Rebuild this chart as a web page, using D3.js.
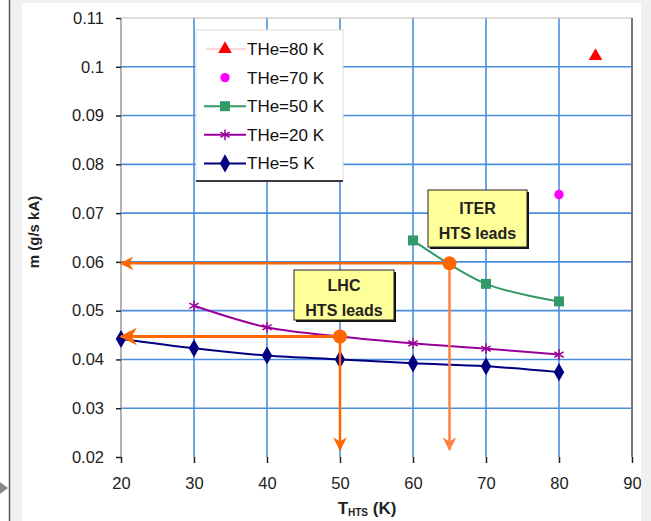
<!DOCTYPE html>
<html>
<head>
<meta charset="utf-8">
<script src="https://cdn.jsdelivr.net/npm/d3@7"></script>
<style>
  body { margin: 0; background: #fff; }
  svg { display: block; font-family: Arial, "Liberation Sans", sans-serif; }
</style>
</head>
<body>
<script>
// axis ticks
const xTicks = [20, 30, 40, 50, 60, 70, 80, 90];
const yTicks = [0.02, 0.03, 0.04, 0.05, 0.06, 0.07, 0.08, 0.09, 0.1, 0.11];

// series (T_HTS in K, m in g/s kA)
const he5 = [[20, 0.0442], [30, 0.0423], [40, 0.0408], [50, 0.0400], [60, 0.0392], [70, 0.0386], [80, 0.0374]];
const he20 = [[30, 0.0510], [40, 0.0466], [50, 0.0447], [60, 0.0433], [70, 0.0422], [80, 0.0410]];
const he50 = [[60, 0.0644], [70, 0.0555], [80, 0.0519]];
const he70 = [[80, 0.0738]];
const he80 = [[85, 0.1022]];

// operating points of the HTS leads
const lhcPoint = [50, 0.0447];
const iterPoint = [65, 0.0597];

const W = 651, H = 521;
const margin = { top: 18, right: 19, bottom: 64, left: 121 };
const width = W - margin.left - margin.right,
  height = H - margin.top - margin.bottom;

const svg = d3.select("body").append("svg")
  .attr("width", W).attr("height", H);

// page frame like the source screenshot
svg.append("rect").attr("x", 10).attr("y", 0).attr("width", W - 10).attr("height", H).attr("fill", "#f0f0f0");
svg.append("rect").attr("x", 22).attr("y", 3).attr("width", 619).attr("height", H - 3).attr("fill", "#fff");
svg.append("line").attr("x1", 9.5).attr("x2", 9.5).attr("y1", 0).attr("y2", H).attr("stroke", "#555").attr("stroke-width", 1.5);
svg.append("path").attr("d", "M0,482 L8,488 L0,494 Z").attr("fill", "#888");

const x = d3.scaleLinear().domain([20, 90]).range([0, width]);
const y = d3.scaleLinear().domain([0.02, 0.11]).range([height, 0]);

const g = svg.append("g")
  .attr("transform", "translate(" + margin.left + "," + margin.top + ")");

// grid
const gridColor = "#4a8ede";
g.selectAll(".hgrid").data(yTicks.filter(d => d > 0.02 && d < 0.11)).enter()
  .append("line")
  .attr("x1", 0).attr("x2", width)
  .attr("y1", d => y(d)).attr("y2", d => y(d))
  .attr("stroke", gridColor).attr("stroke-width", 1.6);
g.selectAll(".vgrid").data(xTicks.filter(d => d > 20 && d < 90)).enter()
  .append("line")
  .attr("y1", 0).attr("y2", height)
  .attr("x1", d => x(d)).attr("x2", d => x(d))
  .attr("stroke", gridColor).attr("stroke-width", 1.6);

// plot frame
g.append("line").attr("x1", 0).attr("x2", width).attr("y1", 0).attr("y2", 0).attr("stroke", "#bbb");
g.append("line").attr("x1", 0).attr("x2", 0).attr("y1", 0).attr("y2", height).attr("stroke", "#999").attr("stroke-width", 1.5);
g.append("line").attr("x1", width).attr("x2", width).attr("y1", 0).attr("y2", height).attr("stroke", "#777").attr("stroke-width", 2);

// axes
const yAxis = g.append("g")
  .call(d3.axisLeft(y).tickValues(yTicks).tickSize(5).tickPadding(12)
    .tickFormat(d => d3.format("~g")(+d.toFixed(2))));
yAxis.select(".domain").remove();
yAxis.selectAll("line").attr("stroke", "#222").attr("stroke-width", 1.5);
yAxis.selectAll("text").attr("font-size", 16.5).attr("fill", "#222");

const xAxis = g.append("g")
  .attr("transform", "translate(0," + height + ")")
  .call(d3.axisBottom(x).tickValues(xTicks).tickSize(6).tickPadding(14));
xAxis.select(".domain").remove();
xAxis.selectAll("line").attr("stroke", "#222").attr("stroke-width", 1.5);
xAxis.selectAll("text").attr("font-size", 16.5).attr("fill", "#222");

// axis titles
svg.append("text")
  .attr("transform", "translate(39,232) rotate(-90)")
  .attr("text-anchor", "middle")
  .attr("font-size", 15).attr("font-weight", "bold").attr("fill", "#222")
  .text("m (g/s kA)");
const xt = svg.append("text")
  .attr("x", 367).attr("y", 514)
  .attr("text-anchor", "middle")
  .attr("font-size", 17).attr("font-weight", "bold").attr("fill", "#222");
xt.append("tspan").text("T");
xt.append("tspan").attr("font-size", 10).attr("dy", 2).text("HTS");
xt.append("tspan").attr("dy", -2).text(" (K)");

// series
const line = d3.line()
  .x(d => x(d[0])).y(d => y(d[1]))
  .curve(d3.curveCatmullRom.alpha(0.5));

const series = [
  { name: "THe=80 K", data: he80, color: "#ff0000", sym: d3.symbolTriangle, size: 80, line: false },
  { name: "THe=70 K", data: he70, color: "#ff00ff", sym: d3.symbolCircle, size: 70, line: false },
  { name: "THe=50 K", data: he50, color: "#339966", sym: d3.symbolSquare, size: 100, line: true },
  { name: "THe=20 K", data: he20, color: "#990099", sym: d3.symbolAsterisk, size: 80, line: true },
  { name: "THe=5 K", data: he5, color: "#000080", sym: d3.symbolDiamond, size: 95, line: true }
];

series.forEach(s => {
  if (s.line) {
    g.append("path").datum(s.data)
      .attr("d", line)
      .attr("fill", "none").attr("stroke", s.color).attr("stroke-width", 2);
  }
});

function drawSymbol(sel, s) {
  const sym = d3.symbol().type(s.sym).size(s.size);
  if (s.sym === d3.symbolAsterisk) {
    sel.attr("d", sym).attr("fill", "none").attr("stroke", s.color).attr("stroke-width", 1.5);
  } else {
    sel.attr("d", sym).attr("fill", s.color);
  }
}

series.forEach(s => {
  g.selectAll(null).data(s.data).enter().append("path")
    .attr("transform", d => "translate(" + x(d[0]) + "," + y(d[1]) + ")")
    .call(drawSymbol, s);
});

// legend
const leg = svg.append("g").attr("transform", "translate(196,30)");
leg.append("rect").attr("width", 147).attr("height", 151).attr("fill", "#fff")
  .attr("stroke", "#ddd");
leg.append("line").attr("x1", 0).attr("x2", 147).attr("y1", 151).attr("y2", 151)
  .attr("stroke", "#000").attr("stroke-width", 1.5);
series.forEach((s, i) => {
  const row = leg.append("g").attr("transform", "translate(0," + (19 + i * 28.6) + ")");
  if (s.name === "THe=80 K") {
    row.append("line").attr("x1", 10).attr("x2", 50).attr("stroke", "#ffb0b0").attr("stroke-width", 1);
  } else if (s.line) {
    row.append("line").attr("x1", 8).attr("x2", 50).attr("stroke", s.color).attr("stroke-width", 2);
  }
  row.append("path").attr("transform", "translate(29,0)").call(drawSymbol, s);
  row.append("text").attr("x", 51).attr("y", 6)
    .attr("font-size", 17).attr("fill", "#111").text(s.name);
});

// annotation arrows
const orange = "#ff6600", orangeLight = "#ff8040";
const defs = svg.append("defs");
function marker(id, color) {
  defs.append("marker").attr("id", id)
    .attr("viewBox", "0 0 10 10").attr("refX", 9).attr("refY", 5)
    .attr("markerWidth", 5.5).attr("markerHeight", 6).attr("orient", "auto")
    .attr("markerUnits", "strokeWidth")
    .append("path").attr("d", "M0,0 L10,5 L0,10 L3,5 Z").attr("fill", color);
}
marker("arrO", orange);
marker("arrL", orangeLight);

function arrow(x1, y1, x2, y2, color, w, m) {
  g.append("line")
    .attr("x1", x(x1)).attr("y1", y(y1))
    .attr("x2", x(x2)).attr("y2", y(y2))
    .attr("stroke", color).attr("stroke-width", w)
    .attr("marker-end", "url(#" + m + ")");
}
arrow(iterPoint[0], iterPoint[1], 20, iterPoint[1], orange, 2.5, "arrO");
arrow(iterPoint[0], iterPoint[1], iterPoint[0], 0.0215, orangeLight, 2.5, "arrL");
arrow(lhcPoint[0], lhcPoint[1], 20, lhcPoint[1], orange, 3.2, "arrO");
arrow(lhcPoint[0], lhcPoint[1], lhcPoint[0], 0.0215, orange, 2.5, "arrO");

[lhcPoint, iterPoint].forEach(p => {
  g.append("circle").attr("cx", x(p[0])).attr("cy", y(p[1])).attr("r", 7).attr("fill", orange);
});

// label boxes
function labelBox(bx, by, bw, bh, base, lines) {
  svg.append("rect").attr("x", bx + 2).attr("y", by + 2).attr("width", bw).attr("height", bh).attr("fill", "#111");
  svg.append("rect").attr("x", bx).attr("y", by).attr("width", bw).attr("height", bh)
    .attr("fill", "#ffff99").attr("stroke", "#222").attr("stroke-width", 1);
  lines.forEach((t, i) => {
    svg.append("text").attr("x", bx + bw / 2).attr("y", by + base + i * 25)
      .attr("text-anchor", "middle").attr("font-size", 16).attr("font-weight", "bold")
      .attr("fill", "#222").text(t);
  });
}
labelBox(294, 270, 100, 50, 21, ["LHC", "HTS leads"]);
labelBox(428, 190, 99, 57, 24, ["ITER", "HTS leads"]);

// grey strip at the right edge of the screenshot (clips the last tick label)
svg.append("rect").attr("x", 641).attr("y", 0).attr("width", 10).attr("height", H).attr("fill", "#f0f0f0");
</script>
</body>
</html>
